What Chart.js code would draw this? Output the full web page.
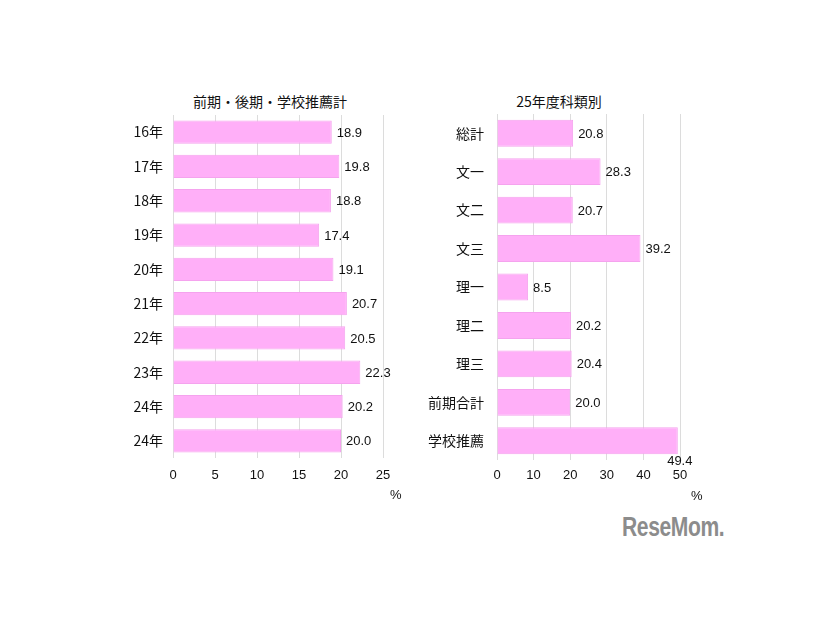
<!DOCTYPE html>
<html>
<head>
<meta charset="utf-8">
<script src="https://cdn.jsdelivr.net/npm/chart.js@4/dist/chart.umd.min.js"></script>
<style>
  body { margin: 0; background: #fff; width: 826px; height: 620px; position: relative; overflow: hidden;
         font-family: "Noto Sans CJK JP", "Liberation Sans", sans-serif; color: #111; }
  .box { position: absolute; }
  .ttl { position: absolute; font-size: 14px; white-space: nowrap; transform: translateX(-50%); }
  .pct { position: absolute; font-size: 13px; font-family: "Liberation Sans", Arial, sans-serif; }
  .logo { position: absolute; left: 622px; top: 512px; font-family: "Liberation Sans", sans-serif;
          font-weight: bold; font-size: 27px; color: #8c8c8c; letter-spacing: -0.5px;
          transform: scaleX(0.78); transform-origin: left top; }
</style>
</head>
<body>
<div class="ttl" style="left:270px; top:91px;">前期・後期・学校推薦計</div>
<div class="ttl" style="left:559px; top:91px;">25年度科類別</div>
<div class="box" style="left:100px; top:80px; width:320px; height:430px;"><canvas id="left"></canvas></div>
<div class="box" style="left:420px; top:80px; width:300px; height:430px;"><canvas id="right"></canvas></div>
<div class="pct" style="left:390px; top:487px;">%</div>
<div class="pct" style="left:691px; top:488px;">%</div>
<div class="logo">ReseMom.</div>
<script>
const yearLabels = ["16年", "17年", "18年", "19年", "20年", "21年", "22年", "23年", "24年", "24年"];
const yearValues = [18.9, 19.8, 18.8, 17.4, 19.1, 20.7, 20.5, 22.3, 20.2, 20.0];

const courseLabels = ["総計", "文一", "文二", "文三", "理一", "理二", "理三", "前期合計", "学校推薦"];
const courseValues = [20.8, 28.3, 20.7, 39.2, 8.5, 20.2, 20.4, 20.0, 49.4];

const leftTicks = [0, 5, 10, 15, 20, 25];
const rightTicks = [0, 10, 20, 30, 40, 50];

const pink = "#ffaff8";
const numFont = '"Liberation Sans", Arial, sans-serif';
const jpFont = '"Noto Sans CJK JP", sans-serif';

// value labels at the end of each bar
const valueLabels = {
  id: "valueLabels",
  afterDatasetsDraw(chart) {
    const ctx = chart.ctx;
    const meta = chart.getDatasetMeta(0);
    const data = chart.data.datasets[0].data;
    ctx.save();
    ctx.font = "13px " + numFont;
    ctx.fillStyle = "#111";
    meta.data.forEach((bar, i) => {
      const txt = data[i].toFixed(1);
      const w = ctx.measureText(txt).width;
      if (bar.x + 5 + w > chart.chartArea.right + 20) {
        ctx.textAlign = "center";
        ctx.textBaseline = "top";
        ctx.fillText(txt, bar.x + 2, bar.y + bar.height / 2 + 1);
      } else {
        ctx.textAlign = "left";
        ctx.textBaseline = "middle";
        ctx.fillText(txt, bar.x + 5, bar.y + 1);
      }
    });
    ctx.restore();
  }
};

function makeChart(id, labels, values, ticks, opts) {
  new Chart(document.getElementById(id), {
    type: "bar",
    data: {
      labels: labels,
      datasets: [{
        data: values,
        backgroundColor: pink,
        borderColor: "#f5a3ee",
        borderWidth: 1,
        categoryPercentage: 1,
        barPercentage: opts.barPct
      }]
    },
    options: {
      indexAxis: "y",
      responsive: true,
      maintainAspectRatio: false,
      animation: false,
      layout: { padding: { top: opts.top, right: opts.right, bottom: opts.bottom, left: 0 } },
      plugins: { legend: { display: false }, tooltip: { enabled: false } },
      scales: {
        x: {
          min: ticks[0],
          max: ticks[ticks.length - 1],
          afterBuildTicks: (s) => { s.ticks = ticks.map(v => ({ value: v })); },
          afterFit: (s) => { s.height = 30; },
          grid: { color: "#dcdcdc", drawTicks: false },
          border: { display: false },
          ticks: { padding: opts.xPad, color: "#111", font: { size: 13, family: numFont } }
        },
        y: {
          afterFit: (s) => { s.width = opts.yWidth; },
          grid: { display: false, drawTicks: false },
          border: { display: false },
          ticks: { padding: opts.yPad, color: "#111", font: { size: 14, family: jpFont } }
        }
      }
    },
    plugins: [valueLabels]
  });
}

makeChart("left", yearLabels, yearValues, leftTicks,
  { top: 35, right: 37, bottom: 22, yWidth: 73, yPad: 10, xPad: 10, barPct: 0.68 });
makeChart("right", courseLabels, courseValues, rightTicks,
  { top: 34, right: 40, bottom: 20, yWidth: 77, yPad: 13, xPad: 8, barPct: 0.7 });
</script>
</body>
</html>
